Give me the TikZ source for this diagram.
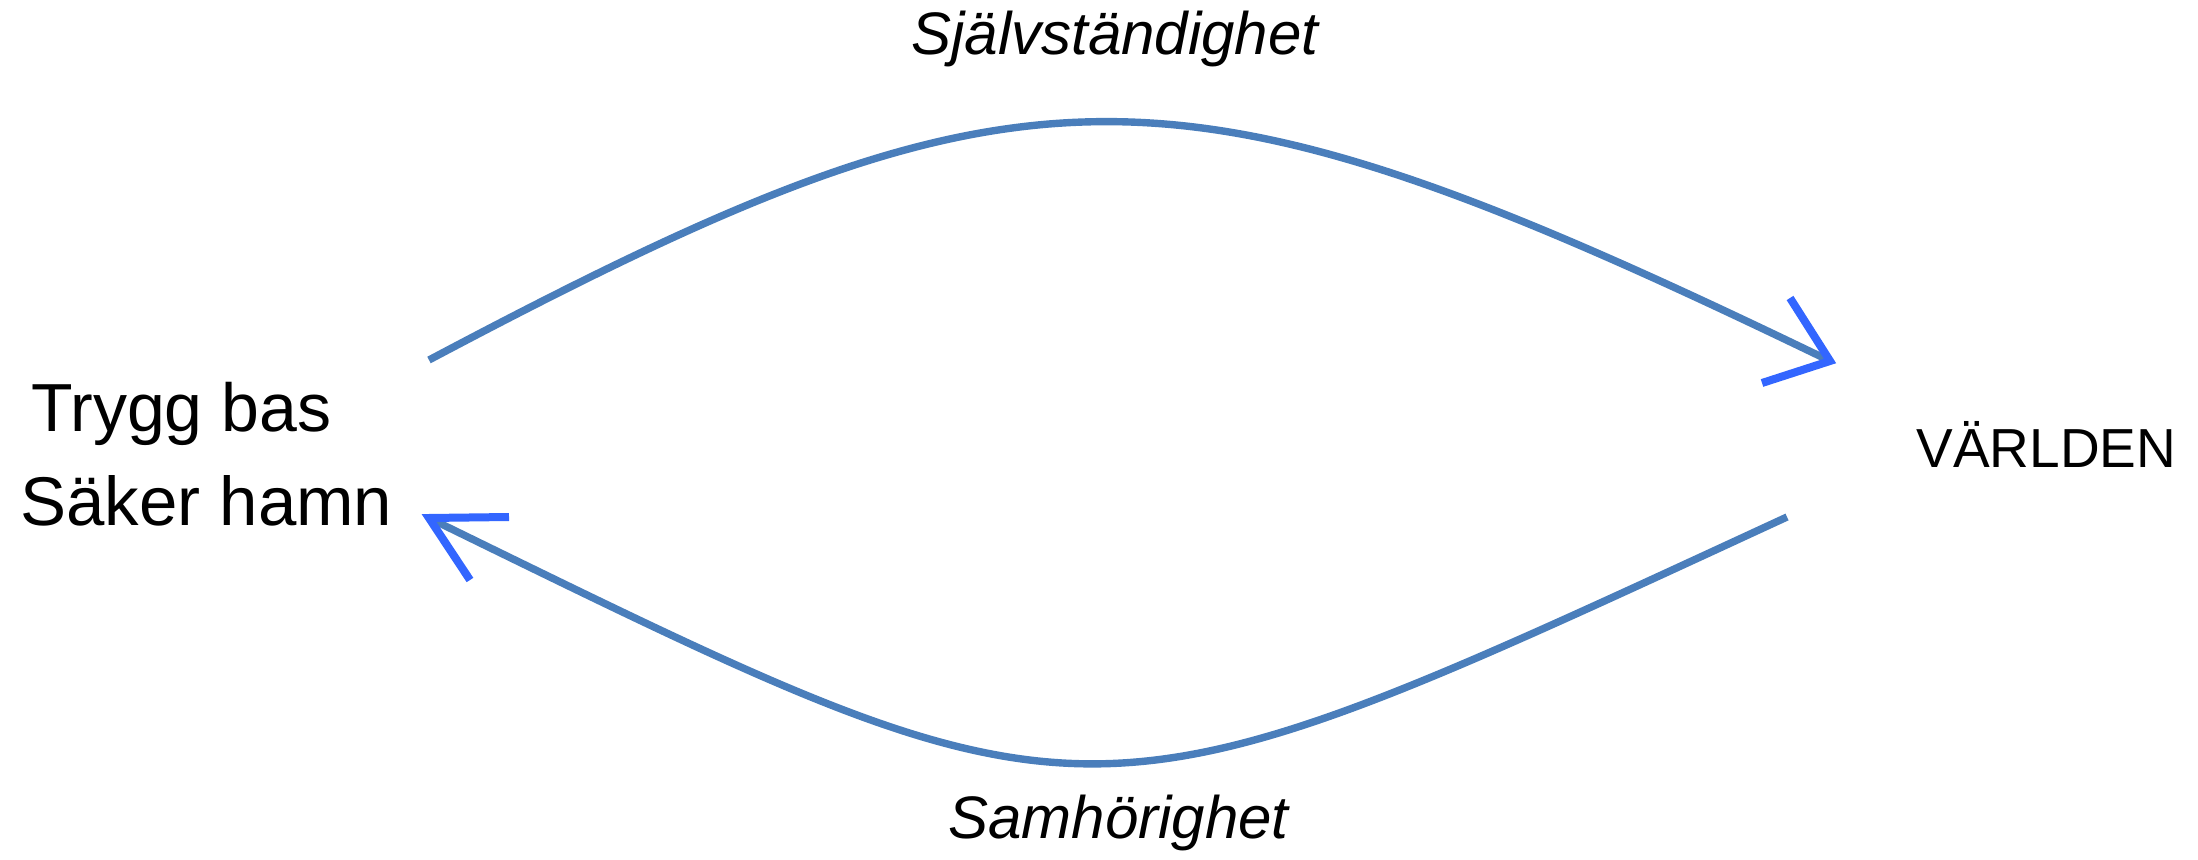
\documentclass[tikz,border=0pt]{standalone}
\usepackage{fontspec}
\setmainfont{Liberation Sans}
\definecolor{curveblue}{HTML}{4A7EBB}
\definecolor{tipblue}{HTML}{3366FF}
\begin{document}
\begin{tikzpicture}[x=0.5pt,y=-0.5pt,
  lbl/.style={anchor=base west,inner sep=0pt,text=black},
  curve/.style={draw=curveblue,line width=3.7pt},
  tipline/.style={draw=tipblue,line width=4pt}]
\useasboundingbox (0,0) rectangle (2198,860);
\node[lbl,font=\fontsize{34}{38}\selectfont] (trygg) at (31,432) {Trygg bas};
\node[lbl,font=\fontsize{34.5}{38}\selectfont] (saker) at (20,525) {Säker hamn};
\node[lbl,font=\fontsize{27.5}{32}\selectfont] (varlden) at (1916,467) {VÄRLDEN};
\node[lbl,font=\fontsize{30}{34}\selectfont\itshape] (sjalv) at (911,55) {Självständighet};
\node[lbl,font=\fontsize{30}{34}\selectfont\itshape] (samh) at (948,838) {Samhörighet};
\coordinate (a1) at (429,360);
\coordinate (a2) at (1830,361);
\coordinate (b1) at (1787,517);
\coordinate (b2) at (429,518);
\path[curve] (a1) .. controls (1029,42) and (1170,42) .. (a2);
\path[curve] (b1) .. controls (1074,846) and (1101,846) .. (b2);
\path[tipline] (1790,298) -- (a2) -- (1762,383);
\path[tipline] (509,517) -- (b2) -- (470,580);
\end{tikzpicture}
\end{document}
